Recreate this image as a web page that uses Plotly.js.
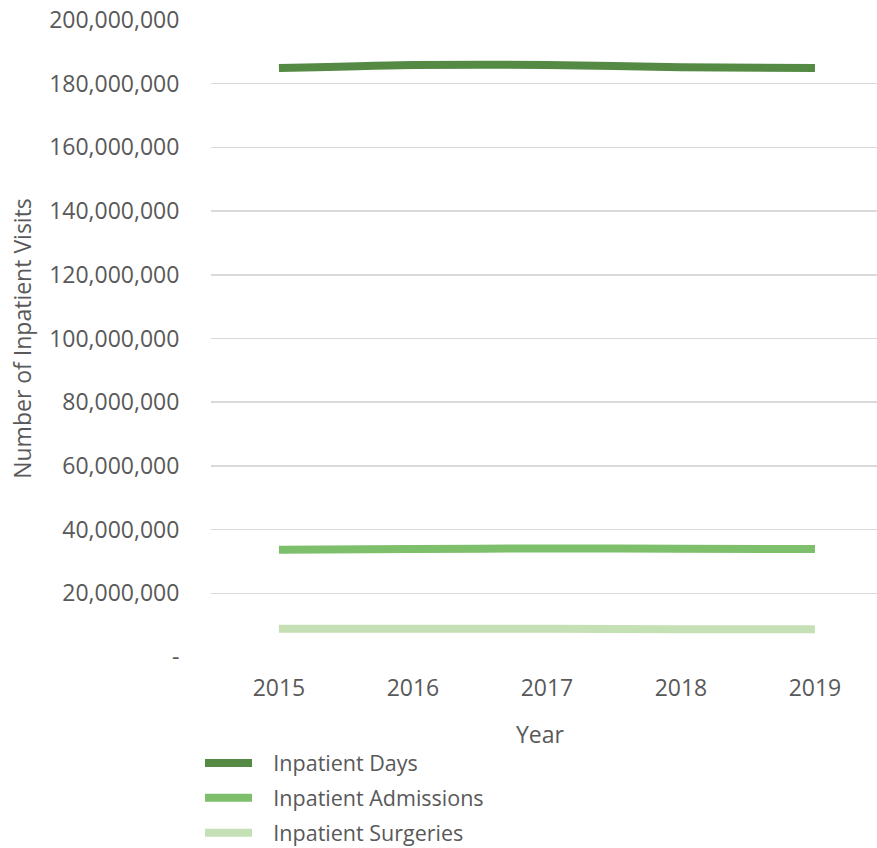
<!DOCTYPE html>
<html>
<head>
<meta charset="utf-8">
<script src="https://cdn.plot.ly/plotly-3.0.1.min.js"></script>
<style>html,body{margin:0;padding:0;background:#fff;}#chart{width:877px;height:848px;}</style>
</head>
<body>
<div id="chart"></div>
<script>
const years = ["2015", "2016", "2017", "2018", "2019"];
const inpatientDays = [184900000, 185900000, 185900000, 185200000, 184900000];
const inpatientAdmissions = [33700000, 33900000, 34100000, 34000000, 33900000];
const inpatientSurgeries = [8900000, 8900000, 8900000, 8700000, 8700000];
const seriesNames = ["Inpatient Days", "Inpatient Admissions", "Inpatient Surgeries"];
const yTickVals = [0, 20000000, 40000000, 60000000, 80000000, 100000000, 120000000, 140000000, 160000000, 180000000, 200000000];
const yTickText = ["-", "20,000,000", "40,000,000", "60,000,000", "80,000,000", "100,000,000", "120,000,000", "140,000,000", "160,000,000", "180,000,000", "200,000,000"];
const xTitle = "Year";
const yTitle = "Number of Inpatient Visits";

const colors = ["#548a44", "#7dbf6b", "#c5e0b4"];
const font = "'Open Sans', sans-serif";
const seriesData = [inpatientDays, inpatientAdmissions, inpatientSurgeries];

const traces = seriesData.map((vals, i) => ({
  type: "scatter", mode: "lines", x: years, y: vals,
  name: "\u2002\u00a0" + seriesNames[i],
  line: {color: colors[i], width: 8, shape: "spline", smoothing: 0.6},
  legendgroup: "g" + i, hoverinfo: "skip"
}));

const layout = {
  width: 877, height: 848,
  margin: {l: 211, r: 0, t: 20, b: 191},
  paper_bgcolor: "#fff", plot_bgcolor: "#fff",
  font: {family: font, color: "#595959", size: 21},
  showlegend: true,
  legend: {
    orientation: "v", x: -0.0165, xanchor: "left",
    yref: "container", y: 0.1245, yanchor: "top",
    traceorder: "grouped", tracegroupgap: 4, itemwidth: 47,
    font: {size: 21.5, color: "#595959", family: font}
  },
  xaxis: {
    type: "category", range: [-0.507, 4.463], showgrid: false, zeroline: false,
    showline: false, ticks: "outside", ticklen: 10, tickcolor: "rgba(0,0,0,0)",
    tickfont: {size: 23, color: "#595959"},
    automargin: false
  },
  yaxis: {
    range: [0, 200000000], tickvals: yTickVals, ticktext: yTickText,
    showgrid: true, gridcolor: "#d9d9d9", gridwidth: 1.5, zeroline: false,
    showline: false, ticks: "outside", ticklen: 26, tickcolor: "rgba(0,0,0,0)",
    tickfont: {size: 23, color: "#595959"},
    title: {text: yTitle, font: {size: 23, color: "#595959"}, standoff: 11},
    automargin: false
  },
  annotations: [{
    text: xTitle, xref: "paper", yref: "paper", x: 0.494, y: -0.1209,
    xanchor: "center", yanchor: "middle", showarrow: false,
    font: {size: 23, color: "#595959", family: font}
  }]
};

Plotly.newPlot("chart", traces, layout, {displayModeBar: false, staticPlot: true});
</script>
</body>
</html>
